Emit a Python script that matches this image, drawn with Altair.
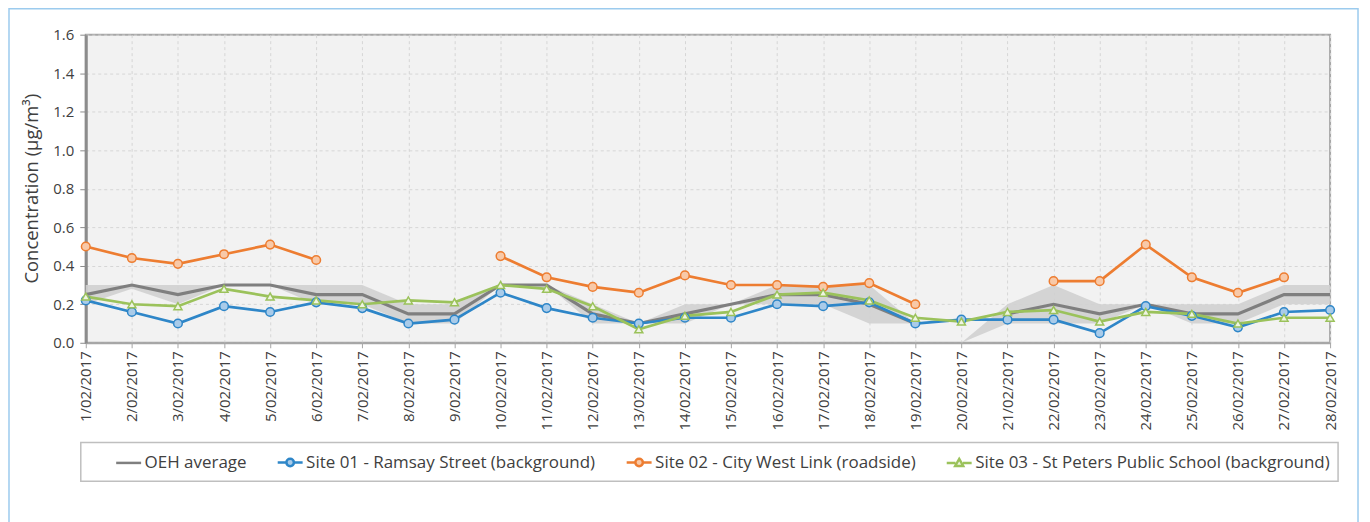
import altair as alt
import pandas as pd

dates = [f"{d}/02/2017" for d in range(1, 29)]
series_names = [
    "OEH average",
    "Site 01 - Ramsay Street (background)",
    "Site 02 - City West Link (roadside)",
    "Site 03 - St Peters Public School (background)",
]
oeh_avg = [0.25, 0.30, 0.25, 0.30, 0.30, 0.25, 0.25, 0.15, 0.15, 0.30,
           0.30, 0.15, 0.10, 0.15, 0.20, 0.25, 0.25, 0.20, 0.10, None,
           0.15, 0.20, 0.15, 0.20, 0.15, 0.15, 0.25, 0.25]
oeh_min = [0.20, 0.28, 0.20, 0.30, 0.30, 0.20, 0.20, 0.10, 0.10, 0.30,
           0.30, 0.10, 0.10, 0.10, 0.20, 0.20, 0.20, 0.10, 0.10, 0.00,
           0.10, 0.10, 0.10, 0.20, 0.10, 0.10, 0.20, 0.20]
oeh_max = [0.30, 0.30, 0.30, 0.30, 0.30, 0.30, 0.30, 0.20, 0.20, 0.30,
           0.30, 0.20, 0.10, 0.20, 0.20, 0.30, 0.30, 0.30, 0.10, 0.00,
           0.20, 0.30, 0.20, 0.20, 0.20, 0.20, 0.30, 0.30]
site01 = [0.22, 0.16, 0.10, 0.19, 0.16, 0.21, 0.18, 0.10, 0.12, 0.26,
          0.18, 0.13, 0.10, 0.13, 0.13, 0.20, 0.19, 0.21, 0.10, 0.12,
          0.12, 0.12, 0.05, 0.19, 0.14, 0.08, 0.16, 0.17]
site02 = [0.50, 0.44, 0.41, 0.46, 0.51, 0.43, None, None, None, 0.45,
          0.34, 0.29, 0.26, 0.35, 0.30, 0.30, 0.29, 0.31, 0.20, None,
          None, 0.32, 0.32, 0.51, 0.34, 0.26, 0.34, None]
site03 = [0.24, 0.20, 0.19, 0.28, 0.24, 0.22, 0.20, 0.22, 0.21, 0.30,
          0.28, 0.19, 0.07, 0.14, 0.16, 0.25, 0.26, 0.22, 0.13, 0.11,
          0.16, 0.17, 0.11, 0.16, 0.15, 0.10, 0.13, 0.13]

line_colors = ["#7f7f7f", "#2e86c8", "#ed7d31", "#9bc25b"]
fill_colors = ["#7f7f7f", "#a9cbe9", "#f8c9a8", "#eef4e2"]
legend_paths = [
    "M-1,0L1,0",
    "M-1,0L-0.3,0M0.3,0L1,0M0.3,0A0.3,0.3,0,1,1,-0.3,0A0.3,0.3,0,1,1,0.3,0Z",
    "M-1,0L-0.3,0M0.3,0L1,0M0.3,0A0.3,0.3,0,1,1,-0.3,0A0.3,0.3,0,1,1,0.3,0Z",
    "M-1,0L-0.3,0M0.3,0L1,0M0,-0.32L0.32,0.24L-0.32,0.24Z",
]

FONT = "Open Sans"

rows = []
for name, vals in zip(series_names, [oeh_avg, site01, site02, site03]):
    seg = 0
    for i, (d, v) in enumerate(zip(dates, vals)):
        if v is None:
            seg += 1
            continue
        rows.append({"date": d, "series": name, "value": v, "seg": f"{name}-{seg}", "order": i})
long_df = pd.DataFrame(rows)
band_df = pd.DataFrame({"date": dates, "lo": oeh_min, "hi": oeh_max})
legend_df = pd.DataFrame({"series": series_names})
frame_df = pd.DataFrame({"k": [0]})

stroke_scale = alt.Scale(domain=series_names, range=line_colors)
fill_scale = alt.Scale(domain=series_names, range=fill_colors)
shape_scale = alt.Scale(domain=series_names, range=legend_paths)

legend_def = alt.Legend(
    title=None, orient="none", legendX=29, legendY=415, direction="horizontal",
    columns=4, padding=0, labelFont=FONT, labelFontSize=17, labelColor="#404040",
    labelOffset=2, columnPadding=25, symbolSize=625, symbolStrokeWidth=2.5,
    symbolOpacity=1, labelLimit=500,
)

x_enc = alt.X(
    "date:N", sort=dates, title=None,
    scale=alt.Scale(type="point", padding=0),
    axis=alt.Axis(labelAngle=270, labelFont=FONT, labelFontSize=15, labelColor="#404040",
                  tickSize=5, tickColor="#a6a6a6", labelPadding=3,
                  domainColor="#a6a6a6", domainWidth=2,
                  grid=True, gridColor="#d6d6d6", gridDash=[3, 3]),
)
y_scale = alt.Scale(domain=[0, 1.6], nice=False, zero=True)
y_axis = alt.Axis(values=[0, 0.2, 0.4, 0.6, 0.8, 1.0, 1.2, 1.4, 1.6], format=".1f",
                  labelFont=FONT, labelFontSize=15, labelColor="#404040",
                  tickSize=6, tickColor="#8c8c8c", labelPadding=6,
                  domainColor="#8c8c8c", domainWidth=3,
                  grid=True, gridColor="#d6d6d6", gridDash=[3, 3],
                  title="Concentration (µg/m³)", titleFont=FONT, titleFontSize=18.5,
                  titleFontWeight="normal", titleColor="#404040",
                  titleX=-54, titleY=154, titleAngle=270, titleAlign="center",
                  titleBaseline="middle")

stroke_enc = alt.Stroke("series:N", scale=stroke_scale, legend=legend_def)
fill_enc = alt.Fill("series:N", scale=fill_scale, legend=legend_def)
shape_enc = alt.Shape("series:N", scale=shape_scale, legend=legend_def)

outer_frame = alt.Chart(frame_df).mark_rect(
    fill="transparent", stroke="#9ccbee", strokeWidth=1.5
).encode(x=alt.value(-77), x2=alt.value(1276), y=alt.value(-26), y2=alt.value(600))

legend_box = alt.Chart(frame_df).mark_rect(
    fill="white", stroke="#bfbfbf", strokeWidth=1.5
).encode(x=alt.value(-5), x2=alt.value(1256), y=alt.value(409), y2=alt.value(448))

band = alt.Chart(band_df).mark_area(color="#d0d0d0", opacity=0.9).encode(
    x=x_enc,
    y=alt.Y("lo:Q", scale=y_scale, axis=y_axis),
    y2="hi:Q",
)

oeh_line = alt.Chart(long_df[long_df.series == series_names[0]]).mark_line(strokeWidth=3.2).encode(
    x=x_enc, y=alt.Y("value:Q", scale=y_scale, axis=y_axis),
    stroke=stroke_enc, detail="seg:N", order="order:Q",
)

site_lines = alt.Chart(long_df[long_df.series != series_names[0]]).mark_line(strokeWidth=2.7).encode(
    x=x_enc, y=alt.Y("value:Q", scale=y_scale, axis=y_axis),
    stroke=stroke_enc, detail="seg:N", order="order:Q",
)

circles = alt.Chart(long_df[long_df.series.isin(series_names[1:3])]).mark_point(
    shape="circle", size=75, strokeWidth=1.5, opacity=1
).encode(
    x=x_enc, y=alt.Y("value:Q", scale=y_scale, axis=y_axis),
    stroke=stroke_enc, fill=fill_enc,
)

triangles = alt.Chart(long_df[long_df.series == series_names[3]]).mark_point(
    shape="triangle-up", size=65, strokeWidth=1.5, opacity=1
).encode(
    x=x_enc, y=alt.Y("value:Q", scale=y_scale, axis=y_axis),
    stroke=stroke_enc, fill=fill_enc,
)

legend_layer = alt.Chart(legend_df).mark_point(clip=True, opacity=1).encode(
    x=alt.value(0), y=alt.value(3000),
    stroke=stroke_enc, fill=fill_enc, shape=shape_enc,
)

chart = alt.layer(
    outer_frame, legend_box, band, oeh_line, site_lines, circles, triangles, legend_layer
).properties(
    width=1248, height=309,
    autosize=alt.AutoSizeParams(type="none"),
    padding={"left": 78, "top": 26, "right": 32, "bottom": 180},
    background="white",
).configure_view(
    fill="#f2f2f2", stroke="#a6a6a6", strokeWidth=2
)

chart.save("out.html", embed_options={"renderer": "svg", "actions": False})
